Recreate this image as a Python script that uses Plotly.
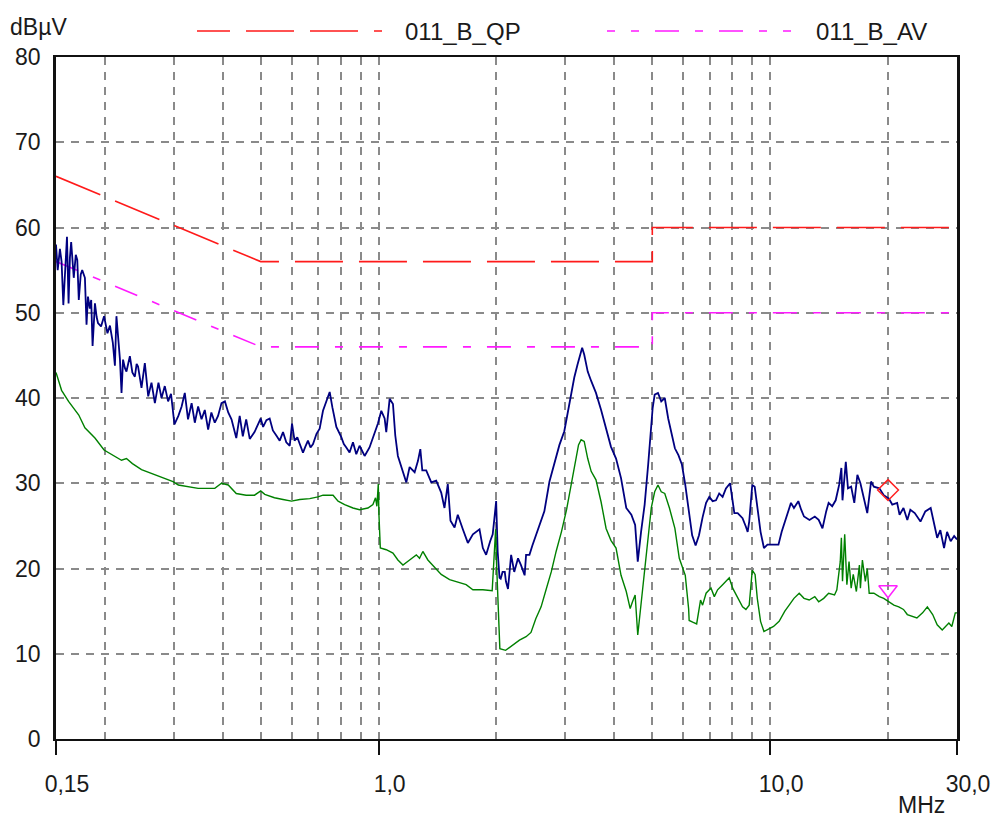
import plotly.graph_objects as go

# ---------------- data ----------------
freq_pk = [0.150, 0.1515, 0.1535, 0.1550, 0.1566, 0.1583, 0.1600, 0.1615, 0.1628, 0.1640,
           0.1665, 0.1685, 0.1700, 0.1715, 0.1735, 0.1750, 0.1778, 0.1795, 0.1810, 0.1830,
           0.1845, 0.1860, 0.1886, 0.1905, 0.1920, 0.1955, 0.1990, 0.2030, 0.2060, 0.2095,
           0.2121, 0.2140, 0.2160, 0.2185, 0.2205, 0.2225, 0.2250, 0.2270, 0.2316, 0.2350,
           0.2385, 0.2410, 0.2430, 0.2480, 0.2529, 0.2580, 0.2630, 0.2683, 0.2740, 0.2790,
           0.2844, 0.2900, 0.2950, 0.2985, 0.3010, 0.3080, 0.3140, 0.3199, 0.3260, 0.3330,
           0.3393, 0.3460, 0.3530, 0.3598, 0.3670, 0.3740, 0.3816, 0.3890, 0.3970, 0.4050,
           0.4130, 0.4210, 0.4330, 0.4418, 0.4500, 0.4590, 0.4687, 0.4820,
           0.500, 0.507, 0.517, 0.527, 0.537, 0.548, 0.559, 0.570, 0.581, 0.593,
           0.601, 0.610, 0.620, 0.629, 0.641, 0.650, 0.660, 0.670, 0.680, 0.694,
           0.707, 0.721, 0.738, 0.750, 0.762, 0.780, 0.803, 0.815, 0.827, 0.843,
           0.860, 0.877, 0.894, 0.921, 0.948, 0.977, 0.996, 1.016, 1.036, 1.046,
           1.067, 1.088, 1.103, 1.120, 1.154, 1.177, 1.200, 1.236, 1.260, 1.278,
           1.293, 1.323, 1.363, 1.403, 1.445, 1.473, 1.502, 1.526, 1.563, 1.593,
           1.641, 1.690, 1.741, 1.810, 1.846, 1.882, 1.927, 1.956, 1.976, 1.996,
           2.014, 2.036, 2.050, 2.073, 2.100, 2.114, 2.140, 2.180, 2.220, 2.270,
           2.310, 2.360, 2.380, 2.428, 2.470, 2.520, 2.575, 2.650, 2.731, 2.810,
           2.896, 2.980, 3.040, 3.100, 3.160, 3.220, 3.310, 3.350, 3.420, 3.490,
           3.590, 3.700, 3.810, 3.920, 4.040, 4.160, 4.290, 4.420, 4.520, 4.590,
           4.680, 4.780, 4.880, 4.950, 5.010, 5.070, 5.170, 5.270, 5.380, 5.490,
           5.600, 5.710, 5.830, 5.950, 6.070, 6.190, 6.320, 6.450, 6.580, 6.720,
           6.860, 6.990, 7.130, 7.270, 7.410, 7.560, 7.710, 7.900, 8.020, 8.100,
           8.260, 8.500, 8.670, 8.760, 8.840, 9.000, 9.130, 9.270, 9.450, 9.640,
           9.840, 10.20, 10.50, 10.70, 10.90, 11.10, 11.30, 11.50, 11.80, 12.00,
           12.20, 12.60, 13.00, 13.30, 13.60, 13.90, 14.10, 14.40, 14.70, 15.00,
           15.20, 15.30, 15.60, 15.80, 16.10, 16.40, 16.70, 17.00, 17.40, 17.70,
           18.10, 18.40, 19.00, 19.50, 20.10, 20.50, 21.10, 21.40, 21.90, 22.40,
           22.80, 23.40, 24.20, 24.90, 25.70, 26.20, 26.70, 27.20, 27.80, 28.30,
           28.90, 29.50, 30.00]
level_pk = [58.0, 55.0, 57.5, 56.0, 50.9, 55.5, 58.9, 51.1, 56.5, 58.3,
            54.1, 56.8, 56.2, 51.5, 54.5, 55.0, 54.1, 48.6, 51.9, 50.5,
            51.5, 46.1, 51.1, 49.5, 48.8, 48.4, 49.6, 47.6, 48.5, 46.5,
            43.8, 49.6, 47.0, 44.5, 40.6, 44.5, 43.5, 43.1, 44.9, 43.0,
            42.5, 44.0, 43.7, 41.2, 44.1, 40.2, 41.8, 39.4, 41.8, 40.0,
            41.4, 39.6, 40.5, 38.3, 36.9, 37.9, 39.0, 40.6, 37.5, 39.4,
            37.1, 39.0, 37.5, 38.6, 36.3, 38.3, 37.1, 37.9, 39.4, 39.6,
            38.3, 37.5, 35.3, 37.9, 35.5, 37.5, 35.2, 36.0,
            37.6, 36.6, 37.4, 37.6, 36.2, 35.6, 35.0, 36.0, 34.8, 34.4,
            37.0, 35.0, 35.4, 34.6, 33.6, 34.3, 35.0, 34.2, 34.6, 35.8,
            36.4, 38.5, 39.7, 40.7, 38.9, 36.6, 35.4, 34.6, 34.2, 33.6,
            34.8, 33.4, 34.4, 33.2, 34.2, 36.0, 37.0, 38.5, 37.6, 36.0,
            39.9, 39.3, 35.6, 33.2, 31.3, 30.1, 31.9, 31.3, 32.6, 34.0,
            31.5, 31.5, 30.1, 30.3, 28.9, 27.1, 29.9, 25.6, 24.8, 26.3,
            24.6, 23.0, 24.0, 24.6, 22.4, 21.6, 23.2, 24.0, 25.9, 27.9,
            22.0, 18.9, 18.8, 19.6, 19.6, 18.5, 17.6, 21.6, 19.6, 21.2,
            20.4, 19.2, 21.6, 21.6, 22.7, 23.9, 25.1, 26.7, 30.2, 32.2,
            34.5, 36.1, 38.2, 40.0, 42.4, 43.9, 45.9, 45.1, 43.1, 42.0,
            40.6, 38.6, 36.5, 34.3, 32.9, 30.6, 27.1, 26.3, 25.1, 20.8,
            24.3, 27.5, 32.2, 36.1, 38.8, 40.4, 40.6, 39.6, 40.0, 37.6,
            35.9, 34.1, 33.3, 32.2, 29.8, 27.1, 23.9, 22.7, 23.9, 26.0,
            27.7, 28.4, 27.9, 28.0, 28.8, 28.4, 29.4, 30.0, 27.9, 26.5,
            26.5, 25.9, 24.9, 24.3, 25.5, 29.8, 29.6, 27.1, 24.3, 22.4,
            22.8, 22.8, 22.8, 24.3, 25.5, 26.5, 27.7, 27.1, 27.9, 26.9,
            26.1, 25.7, 26.1, 25.7, 24.7, 26.7, 27.7, 27.3, 28.0, 29.8,
            31.8, 28.0, 32.5, 29.4, 29.6, 27.7, 31.0, 30.0, 28.0, 26.5,
            30.2, 29.6, 29.4, 28.6, 28.2, 27.5, 27.7, 26.3, 27.1, 25.7,
            26.9, 26.5, 25.5, 26.7, 27.1, 25.1, 23.6, 24.5, 22.4, 24.3,
            23.2, 23.8, 23.4]

freq_av = [0.150, 0.155, 0.1615, 0.1715, 0.1778, 0.1886, 0.1990, 0.2121, 0.2205, 0.2270,
           0.2351, 0.2480, 0.2683, 0.2844, 0.2985, 0.3080, 0.3260, 0.3460, 0.3670, 0.3816,
           0.3970, 0.4130, 0.4330, 0.4590, 0.4820, 0.500, 0.512, 0.542, 0.570, 0.599,
           0.629, 0.667, 0.700, 0.721, 0.765, 0.788, 0.819, 0.860, 0.894, 0.939,
           0.967, 0.982, 0.990, 0.998, 1.002, 1.010, 1.046, 1.088, 1.120, 1.154,
           1.200, 1.248, 1.272, 1.297, 1.336, 1.390, 1.445, 1.518, 1.609, 1.673,
           1.741, 1.846, 1.950, 1.970, 1.990, 2.000, 2.026, 2.040, 2.110, 2.200,
           2.289, 2.380, 2.450, 2.520, 2.600, 2.680, 2.760, 2.840, 2.930, 3.020,
           3.100, 3.180, 3.240, 3.290, 3.350, 3.420, 3.490, 3.590, 3.700, 3.810,
           3.920, 4.040, 4.160, 4.290, 4.390, 4.450, 4.520, 4.590, 4.680, 4.780,
           4.880, 4.970, 5.070, 5.170, 5.270, 5.380, 5.530, 5.710, 5.860, 6.070,
           6.190, 6.210, 6.340, 6.490, 6.640, 6.720, 6.860, 7.060, 7.200, 7.340,
           7.560, 7.860, 8.020, 8.260, 8.500, 8.670, 8.840, 9.000, 9.150, 9.270,
           9.450, 9.640, 9.840, 10.20, 10.54, 10.90, 11.18, 11.50, 11.86, 12.20,
           12.58, 13.00, 13.30, 13.70, 14.10, 14.60, 14.80, 15.10, 15.20, 15.30,
           15.50, 15.70, 15.90, 16.10, 16.30, 16.60, 16.90, 17.00, 17.20, 17.50,
           17.70, 17.90, 18.40, 19.00, 19.50, 20.10, 20.70, 21.30, 21.90, 22.40,
           23.00, 23.70, 24.50, 25.20, 26.00, 26.70, 27.50, 28.00, 28.60, 29.10,
           29.70, 30.00]
level_av = [43.0, 40.9, 39.6, 38.0, 36.5, 35.3, 33.9, 33.2, 32.7, 32.9,
            32.3, 31.6, 31.0, 30.6, 30.2, 29.8, 29.6, 29.4, 29.4, 29.4,
            30.0, 29.8, 28.8, 28.6, 28.6, 29.1, 28.7, 28.3, 28.1, 27.9,
            28.1, 28.2, 28.4, 28.6, 28.6, 27.9, 27.5, 27.1, 26.9, 27.1,
            27.5, 28.3, 27.3, 29.9, 26.3, 22.4, 22.2, 21.8, 21.0, 20.4,
            21.0, 21.6, 21.2, 22.0, 21.0, 20.2, 19.3, 18.7, 18.3, 18.1,
            17.5, 17.5, 17.4, 20.8, 24.6, 20.8, 13.7, 10.6, 10.4, 11.0,
            11.6, 12.0, 12.5, 14.1, 15.5, 17.6, 19.6, 22.0, 24.3, 26.9,
            29.8, 32.2, 34.5, 35.1, 34.9, 32.9, 31.4, 30.4, 27.8, 24.7,
            23.3, 22.4, 19.2, 17.3, 15.3, 16.1, 16.9, 12.2, 15.7, 19.6,
            23.9, 27.1, 29.0, 29.8, 29.0, 28.8, 27.1, 24.7, 21.2, 19.2,
            15.3, 13.9, 13.7, 13.5, 16.3, 15.7, 17.1, 17.7, 16.7, 17.5,
            18.1, 18.9, 17.7, 16.5, 15.5, 15.2, 15.7, 19.8, 19.3, 16.5,
            13.8, 12.6, 12.8, 13.2, 13.8, 15.0, 15.7, 16.5, 17.1, 16.5,
            16.3, 16.7, 16.1, 16.5, 17.1, 16.9, 17.5, 20.8, 23.6, 18.5,
            24.0, 18.1, 20.8, 17.7, 19.3, 17.3, 20.4, 17.7, 21.0, 18.5,
            20.0, 17.1, 17.1, 16.7, 16.5, 16.1, 15.7, 15.5, 15.2, 14.6,
            14.4, 14.2, 14.8, 15.5, 14.6, 13.4, 12.8, 13.2, 13.6, 13.2,
            14.8, 14.8]

# limit lines (EN 55022 class B style)
freq_qp_lim = [0.15, 0.5, 5.0, 5.0, 30.0]
level_qp_lim = [66.0, 56.0, 56.0, 60.0, 60.0]
freq_av_lim = [0.15, 0.5, 5.0, 5.0, 30.0]
level_av_lim = [56.0, 46.0, 46.0, 50.0, 50.0]

# final measurement markers
freq_qp_mark = [20.0]
level_qp_mark = [29.2]
freq_av_mark = [20.0]
level_av_mark = [17.5]

x_tick_vals = [0.15, 1.0, 10.0, 30.0]
x_tick_text = ["0,15", "1,0", "10,0", "30,0"]
x_minor_vals = [0.2, 0.3, 0.4, 0.5, 0.6, 0.7, 0.8, 0.9, 2, 3, 4, 5, 6, 7, 8, 9, 20]
y_tick_vals = [0, 10, 20, 30, 40, 50, 60, 70, 80]
legend_names = ["011_B_QP", "011_B_AV"]

# ---------------- figure ----------------
FONT = "Liberation Sans, Arial, sans-serif"
TXT = "#1a1a1a"
GRID = "#8a8a8a"

fig = go.Figure()

fig.add_trace(go.Scatter(x=freq_qp_lim, y=level_qp_lim, mode="lines",
                         line=dict(color="#ff1a1a", width=1.6, dash="48px,16px"),
                         name=legend_names[0], showlegend=False, hoverinfo="skip"))
fig.add_trace(go.Scatter(x=freq_av_lim, y=level_av_lim, mode="lines",
                         line=dict(color="#ff1aff", width=1.6, dash="24px,16px,8px,16px"),
                         name=legend_names[1], showlegend=False, hoverinfo="skip"))
fig.add_trace(go.Scatter(x=freq_pk, y=level_pk, mode="lines",
                         line=dict(color="#000080", width=1.8),
                         showlegend=False))
fig.add_trace(go.Scatter(x=freq_av, y=level_av, mode="lines",
                         line=dict(color="#008000", width=1.4),
                         showlegend=False))
fig.add_trace(go.Scatter(x=freq_qp_mark, y=level_qp_mark, mode="markers",
                         marker=dict(symbol="diamond-open", size=16, color="#ff2020",
                                     line=dict(width=1.5, color="#ff2020")),
                         showlegend=False))
fig.add_trace(go.Scatter(x=freq_av_mark, y=level_av_mark, mode="markers",
                         marker=dict(symbol="triangle-down-open", size=16, color="#ff20ff",
                                     line=dict(width=1.5, color="#ff20ff")),
                         showlegend=False))

# legend drawn at top (line samples + text)
L, R, T, B = 56, 37, 57, 82
W, H = 994, 821
pw, ph = W - L - R, H - T - B


def px(p):
    return (p - L) / pw


def py(q):
    return (H - B - q) / ph


fig.add_shape(type="line", xref="paper", yref="paper", x0=px(197), x1=px(382),
              y0=py(31), y1=py(31), line=dict(color="#ff1a1a", width=1.6, dash="33px,16px,48px,16px,48px,16px,8px,16px"))
fig.add_shape(type="line", xref="paper", yref="paper", x0=px(607), x1=px(793),
              y0=py(31), y1=py(31), line=dict(color="#ff1aff", width=1.6, dash="8px,16px,8px,16px,24px,16px,8px,16px,24px,16px,8px,16px,8px,16px"))
fig.add_annotation(xref="paper", yref="paper", x=px(403), y=py(31), text=legend_names[0],
                   showarrow=False, xanchor="left", yanchor="middle",
                   font=dict(family=FONT, size=24, color=TXT))
fig.add_annotation(xref="paper", yref="paper", x=px(814), y=py(31), text=legend_names[1],
                   showarrow=False, xanchor="left", yanchor="middle",
                   font=dict(family=FONT, size=24, color=TXT))
fig.add_annotation(xref="paper", yref="paper", x=px(8), y=py(27), text="dBµV",
                   showarrow=False, xanchor="left", yanchor="middle",
                   font=dict(family=FONT, size=23, color=TXT))
fig.add_annotation(xref="paper", yref="paper", x=px(921), y=py(805), text="MHz",
                   showarrow=False, xanchor="center", yanchor="middle",
                   font=dict(family=FONT, size=23, color=TXT))

fig.update_layout(
    width=W, height=H,
    margin=dict(l=L, r=R, t=T, b=B, pad=0, autoexpand=False),
    paper_bgcolor="white", plot_bgcolor="white",
    font=dict(family=FONT, size=23, color=TXT),
    showlegend=False,
)
fig.update_xaxes(
    type="log", range=[-0.82391, 1.47712], automargin=False,
    tickmode="array", tickvals=x_tick_vals, ticktext=x_tick_text,
    ticks="outside", ticklen=14, tickwidth=2, tickcolor="#111",
    ticklabelshift=11, ticklabelstandoff=9,
    showgrid=True, gridcolor=GRID, gridwidth=1.5, griddash="8px,7px",
    minor=dict(tickmode="array", tickvals=x_minor_vals, showgrid=True,
               gridcolor=GRID, gridwidth=1.5, griddash="8px,7px", ticks=""),
    showline=True, linecolor="#111", linewidth=2, mirror=True,
    zeroline=False, tickfont=dict(family=FONT, size=23, color=TXT),
)
fig.update_yaxes(
    range=[0, 80], tickmode="array", tickvals=y_tick_vals, automargin=False,
    ticks="", ticklabelstandoff=8,
    showgrid=True, gridcolor=GRID, gridwidth=1.5, griddash="8px,7px",
    showline=True, linecolor="#111", linewidth=2.5, mirror=True,
    zeroline=False, tickfont=dict(family=FONT, size=23, color=TXT),
)

fig.write_html("out.html", config={"displayModeBar": False},
               post_script="document.body.style.margin='0';document.body.style.overflow='hidden';")
